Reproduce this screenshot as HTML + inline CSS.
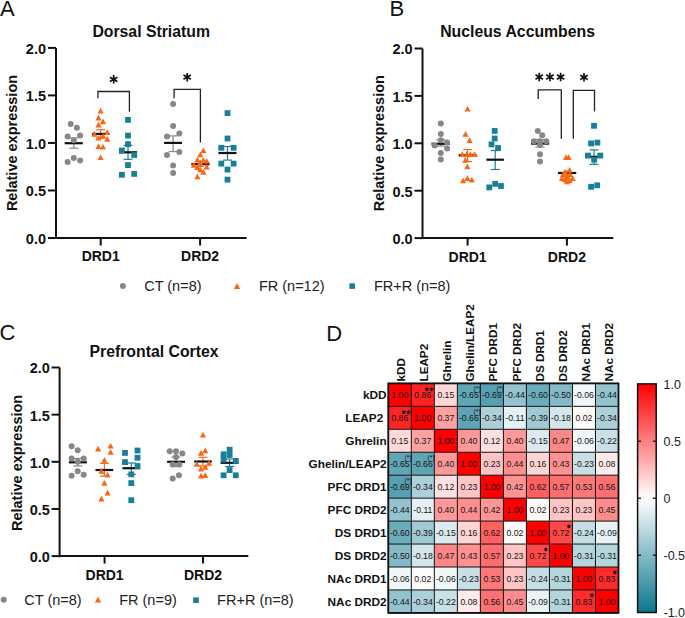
<!DOCTYPE html>
<html><head><meta charset="utf-8"><style>
html,body{margin:0;padding:0;background:#fff;width:685px;height:618px;overflow:hidden}
svg{display:block}
text{font-family:"Liberation Sans", sans-serif}
</style></head><body>
<svg width="685" height="618" viewBox="0 0 685 618">
<rect width="685" height="618" fill="#fff"/>
<line x1="56" y1="47.900000000000006" x2="56" y2="239.0" stroke="#111" stroke-width="2.0" stroke-linecap="butt"/>
<line x1="55" y1="238.0" x2="246.6" y2="238.0" stroke="#111" stroke-width="2.0" stroke-linecap="butt"/>
<line x1="48" y1="238.0" x2="56" y2="238.0" stroke="#111" stroke-width="2.0" stroke-linecap="butt"/>
<text x="46" y="243.9" font-size="14.5" font-weight="bold" text-anchor="end" fill="#111" >0.0</text>
<line x1="48" y1="190.475" x2="56" y2="190.475" stroke="#111" stroke-width="2.0" stroke-linecap="butt"/>
<text x="46" y="196.375" font-size="14.5" font-weight="bold" text-anchor="end" fill="#111" >0.5</text>
<line x1="48" y1="142.95" x2="56" y2="142.95" stroke="#111" stroke-width="2.0" stroke-linecap="butt"/>
<text x="46" y="148.85" font-size="14.5" font-weight="bold" text-anchor="end" fill="#111" >1.0</text>
<line x1="48" y1="95.42500000000001" x2="56" y2="95.42500000000001" stroke="#111" stroke-width="2.0" stroke-linecap="butt"/>
<text x="46" y="101.32500000000002" font-size="14.5" font-weight="bold" text-anchor="end" fill="#111" >1.5</text>
<line x1="48" y1="47.900000000000006" x2="56" y2="47.900000000000006" stroke="#111" stroke-width="2.0" stroke-linecap="butt"/>
<text x="46" y="53.800000000000004" font-size="14.5" font-weight="bold" text-anchor="end" fill="#111" >2.0</text>
<line x1="100.7" y1="238.0" x2="100.7" y2="245.5" stroke="#111" stroke-width="2.0" stroke-linecap="butt"/>
<text x="100.7" y="261" font-size="14" font-weight="bold" text-anchor="middle" fill="#111" >DRD1</text>
<line x1="200.1" y1="238.0" x2="200.1" y2="245.5" stroke="#111" stroke-width="2.0" stroke-linecap="butt"/>
<text x="200.1" y="261" font-size="14" font-weight="bold" text-anchor="middle" fill="#111" >DRD2</text>
<text x="151.2" y="36.7" font-size="15.8" font-weight="bold" text-anchor="middle" fill="#111" >Dorsal Striatum</text>
<text x="0" y="15.5" font-size="22" font-weight="normal" text-anchor="start" fill="#111" >A</text>
<text x="0" y="0" font-size="14.5" font-weight="bold" text-anchor="middle" fill="#111" transform="translate(17 143.0) rotate(-90)">Relative expression</text>
<line x1="73.8" y1="138" x2="73.8" y2="148.2" stroke="#878787" stroke-width="1.2" stroke-linecap="butt"/>
<line x1="69.3" y1="138" x2="78.3" y2="138" stroke="#878787" stroke-width="1.2" stroke-linecap="butt"/>
<line x1="69.3" y1="148.2" x2="78.3" y2="148.2" stroke="#878787" stroke-width="1.2" stroke-linecap="butt"/>
<line x1="64.7" y1="143.2" x2="82.8" y2="143.2" stroke="#111" stroke-width="2.2" stroke-linecap="butt"/>
<circle cx="70.7" cy="124.0" r="3.0" fill="#878787"/>
<circle cx="76.9" cy="127.8" r="3.0" fill="#878787"/>
<circle cx="67.6" cy="136.6" r="3.0" fill="#878787"/>
<circle cx="80.1" cy="135.6" r="3.0" fill="#878787"/>
<circle cx="73.8" cy="140.3" r="3.0" fill="#878787"/>
<circle cx="67.6" cy="161.9" r="3.0" fill="#878787"/>
<circle cx="73.8" cy="158.1" r="3.0" fill="#878787"/>
<circle cx="80.1" cy="160.5" r="3.0" fill="#878787"/>
<line x1="100.6" y1="129.8" x2="100.6" y2="138.0" stroke="#FA6614" stroke-width="1.2" stroke-linecap="butt"/>
<line x1="96.1" y1="129.8" x2="105.1" y2="129.8" stroke="#FA6614" stroke-width="1.2" stroke-linecap="butt"/>
<line x1="96.1" y1="138.0" x2="105.1" y2="138.0" stroke="#FA6614" stroke-width="1.2" stroke-linecap="butt"/>
<line x1="92.1" y1="133.9" x2="109.6" y2="133.9" stroke="#111" stroke-width="2.2" stroke-linecap="butt"/>
<path d="M100.60 107.68L103.70 113.38L97.50 113.38Z" fill="#FA6614"/>
<path d="M98.50 114.68L101.60 120.38L95.40 120.38Z" fill="#FA6614"/>
<path d="M103.00 118.58L106.10 124.28L99.90 124.28Z" fill="#FA6614"/>
<path d="M98.50 121.68L101.60 127.38L95.40 127.38Z" fill="#FA6614"/>
<path d="M94.50 131.08L97.60 136.78L91.40 136.78Z" fill="#FA6614"/>
<path d="M107.30 129.28L110.40 134.98L104.20 134.98Z" fill="#FA6614"/>
<path d="M98.50 134.88L101.60 140.58L95.40 140.58Z" fill="#FA6614"/>
<path d="M103.00 133.08L106.10 138.78L99.90 138.78Z" fill="#FA6614"/>
<path d="M107.30 136.08L110.40 141.78L104.20 141.78Z" fill="#FA6614"/>
<path d="M98.50 143.28L101.60 148.98L95.40 148.98Z" fill="#FA6614"/>
<path d="M103.00 143.88L106.10 149.58L99.90 149.58Z" fill="#FA6614"/>
<path d="M100.60 154.38L103.70 160.08L97.50 160.08Z" fill="#FA6614"/>
<line x1="128" y1="145.3" x2="128" y2="159.3" stroke="#187F97" stroke-width="1.2" stroke-linecap="butt"/>
<line x1="123.5" y1="145.3" x2="132.5" y2="145.3" stroke="#187F97" stroke-width="1.2" stroke-linecap="butt"/>
<line x1="123.5" y1="159.3" x2="132.5" y2="159.3" stroke="#187F97" stroke-width="1.2" stroke-linecap="butt"/>
<line x1="119" y1="152.3" x2="137.1" y2="152.3" stroke="#111" stroke-width="2.2" stroke-linecap="butt"/>
<rect x="125.10" y="117.00" width="5.8" height="5.8" fill="#187F97"/>
<rect x="125.10" y="132.70" width="5.8" height="5.8" fill="#187F97"/>
<rect x="125.10" y="141.20" width="5.8" height="5.8" fill="#187F97"/>
<rect x="119.00" y="147.60" width="5.8" height="5.8" fill="#187F97"/>
<rect x="131.30" y="152.10" width="5.8" height="5.8" fill="#187F97"/>
<rect x="125.10" y="162.20" width="5.8" height="5.8" fill="#187F97"/>
<rect x="119.00" y="171.90" width="5.8" height="5.8" fill="#187F97"/>
<rect x="131.30" y="171.00" width="5.8" height="5.8" fill="#187F97"/>
<line x1="173.1" y1="135.9" x2="173.1" y2="151.6" stroke="#878787" stroke-width="1.2" stroke-linecap="butt"/>
<line x1="168.6" y1="135.9" x2="177.6" y2="135.9" stroke="#878787" stroke-width="1.2" stroke-linecap="butt"/>
<line x1="168.6" y1="151.6" x2="177.6" y2="151.6" stroke="#878787" stroke-width="1.2" stroke-linecap="butt"/>
<line x1="164.1" y1="142.9" x2="182" y2="142.9" stroke="#111" stroke-width="2.2" stroke-linecap="butt"/>
<circle cx="173.1" cy="104.1" r="3.0" fill="#878787"/>
<circle cx="173.1" cy="126.0" r="3.0" fill="#878787"/>
<circle cx="179.3" cy="133.5" r="3.0" fill="#878787"/>
<circle cx="167.0" cy="136.5" r="3.0" fill="#878787"/>
<circle cx="179.3" cy="152.0" r="3.0" fill="#878787"/>
<circle cx="167.0" cy="155.1" r="3.0" fill="#878787"/>
<circle cx="173.1" cy="165.4" r="3.0" fill="#878787"/>
<circle cx="173.1" cy="173.0" r="3.0" fill="#878787"/>
<line x1="200.3" y1="161.5" x2="200.3" y2="166.5" stroke="#FA6614" stroke-width="1.2" stroke-linecap="butt"/>
<line x1="196.8" y1="161.5" x2="203.8" y2="161.5" stroke="#FA6614" stroke-width="1.2" stroke-linecap="butt"/>
<line x1="196.8" y1="166.5" x2="203.8" y2="166.5" stroke="#FA6614" stroke-width="1.2" stroke-linecap="butt"/>
<line x1="191.3" y1="164.2" x2="209.6" y2="164.2" stroke="#111" stroke-width="2.2" stroke-linecap="butt"/>
<path d="M203.40 147.38L206.50 153.08L200.30 153.08Z" fill="#FA6614"/>
<path d="M200.30 151.48L203.40 157.18L197.20 157.18Z" fill="#FA6614"/>
<path d="M197.40 156.68L200.50 162.38L194.30 162.38Z" fill="#FA6614"/>
<path d="M203.40 157.08L206.50 162.78L200.30 162.78Z" fill="#FA6614"/>
<path d="M206.70 157.88L209.80 163.58L203.60 163.58Z" fill="#FA6614"/>
<path d="M193.90 161.98L197.00 167.68L190.80 167.68Z" fill="#FA6614"/>
<path d="M206.70 163.68L209.80 169.38L203.60 169.38Z" fill="#FA6614"/>
<path d="M197.40 164.28L200.50 169.98L194.30 169.98Z" fill="#FA6614"/>
<path d="M200.30 166.58L203.40 172.28L197.20 172.28Z" fill="#FA6614"/>
<path d="M203.40 168.98L206.50 174.68L200.30 174.68Z" fill="#FA6614"/>
<path d="M197.40 173.58L200.50 179.28L194.30 179.28Z" fill="#FA6614"/>
<path d="M200.30 159.58L203.40 165.28L197.20 165.28Z" fill="#FA6614"/>
<line x1="227.5" y1="146.5" x2="227.5" y2="160.1" stroke="#187F97" stroke-width="1.2" stroke-linecap="butt"/>
<line x1="223.0" y1="146.5" x2="232.0" y2="146.5" stroke="#187F97" stroke-width="1.2" stroke-linecap="butt"/>
<line x1="223.0" y1="160.1" x2="232.0" y2="160.1" stroke="#187F97" stroke-width="1.2" stroke-linecap="butt"/>
<line x1="218.4" y1="153.0" x2="236.5" y2="153.0" stroke="#111" stroke-width="2.2" stroke-linecap="butt"/>
<rect x="224.60" y="110.20" width="5.8" height="5.8" fill="#187F97"/>
<rect x="224.60" y="135.60" width="5.8" height="5.8" fill="#187F97"/>
<rect x="218.40" y="144.90" width="5.8" height="5.8" fill="#187F97"/>
<rect x="230.70" y="144.90" width="5.8" height="5.8" fill="#187F97"/>
<rect x="218.40" y="160.70" width="5.8" height="5.8" fill="#187F97"/>
<rect x="230.70" y="160.70" width="5.8" height="5.8" fill="#187F97"/>
<rect x="224.60" y="166.60" width="5.8" height="5.8" fill="#187F97"/>
<rect x="224.60" y="176.70" width="5.8" height="5.8" fill="#187F97"/>
<path d="M97.9 98.2V91.5H129.4V111.7" stroke="#222" stroke-width="1.3" fill="none"/>
<path d="M174.1 98.2V89.4H200.4V142.6" stroke="#222" stroke-width="1.3" fill="none"/>
<path d="M113.70 75.00L113.70 83.60M109.98 77.15L117.42 81.45M109.98 81.45L117.42 77.15" stroke="#111" stroke-width="1.7" fill="none"/>
<path d="M187.20 72.90L187.20 81.50M183.48 75.05L190.92 79.35M183.48 79.35L190.92 75.05" stroke="#111" stroke-width="1.7" fill="none"/>
<circle cx="122.9" cy="286.1" r="3.0" fill="#878787"/>
<text x="144.2" y="291.1" font-size="14.5" font-weight="normal" text-anchor="start" fill="#222" >CT (n=8)</text>
<path d="M237.00 283.07L240.20 288.96L233.80 288.96Z" fill="#FA6614"/>
<text x="258.9" y="291.1" font-size="14.5" font-weight="normal" text-anchor="start" fill="#222" >FR (n=12)</text>
<rect x="349.40" y="283.30" width="5.6" height="5.6" fill="#187F97"/>
<text x="373.9" y="291.1" font-size="14.5" font-weight="normal" text-anchor="start" fill="#222" >FR+R (n=8)</text>
<line x1="422.5" y1="48.5" x2="422.5" y2="239.1" stroke="#111" stroke-width="2.0" stroke-linecap="butt"/>
<line x1="421.5" y1="238.1" x2="613.3" y2="238.1" stroke="#111" stroke-width="2.0" stroke-linecap="butt"/>
<line x1="414.5" y1="238.1" x2="422.5" y2="238.1" stroke="#111" stroke-width="2.0" stroke-linecap="butt"/>
<text x="412.6" y="244.0" font-size="14.5" font-weight="bold" text-anchor="end" fill="#111" >0.0</text>
<line x1="414.5" y1="190.7" x2="422.5" y2="190.7" stroke="#111" stroke-width="2.0" stroke-linecap="butt"/>
<text x="412.6" y="196.6" font-size="14.5" font-weight="bold" text-anchor="end" fill="#111" >0.5</text>
<line x1="414.5" y1="143.3" x2="422.5" y2="143.3" stroke="#111" stroke-width="2.0" stroke-linecap="butt"/>
<text x="412.6" y="149.20000000000002" font-size="14.5" font-weight="bold" text-anchor="end" fill="#111" >1.0</text>
<line x1="414.5" y1="95.9" x2="422.5" y2="95.9" stroke="#111" stroke-width="2.0" stroke-linecap="butt"/>
<text x="412.6" y="101.80000000000001" font-size="14.5" font-weight="bold" text-anchor="end" fill="#111" >1.5</text>
<line x1="414.5" y1="48.5" x2="422.5" y2="48.5" stroke="#111" stroke-width="2.0" stroke-linecap="butt"/>
<text x="412.6" y="54.4" font-size="14.5" font-weight="bold" text-anchor="end" fill="#111" >2.0</text>
<line x1="467.6" y1="238.1" x2="467.6" y2="245.6" stroke="#111" stroke-width="2.0" stroke-linecap="butt"/>
<text x="467.6" y="262" font-size="14" font-weight="bold" text-anchor="middle" fill="#111" >DRD1</text>
<line x1="566.9" y1="238.1" x2="566.9" y2="245.6" stroke="#111" stroke-width="2.0" stroke-linecap="butt"/>
<text x="566.9" y="262" font-size="14" font-weight="bold" text-anchor="middle" fill="#111" >DRD2</text>
<text x="517.6" y="37.0" font-size="15.8" font-weight="bold" text-anchor="middle" fill="#111" >Nucleus Accumbens</text>
<text x="389.6" y="15.6" font-size="22" font-weight="normal" text-anchor="start" fill="#111" >B</text>
<text x="0" y="0" font-size="14.5" font-weight="bold" text-anchor="middle" fill="#111" transform="translate(383.7 143.2) rotate(-90)">Relative expression</text>
<line x1="440.8" y1="139.7" x2="440.8" y2="146.1" stroke="#878787" stroke-width="1.2" stroke-linecap="butt"/>
<line x1="436.3" y1="139.7" x2="445.3" y2="139.7" stroke="#878787" stroke-width="1.2" stroke-linecap="butt"/>
<line x1="436.3" y1="146.1" x2="445.3" y2="146.1" stroke="#878787" stroke-width="1.2" stroke-linecap="butt"/>
<line x1="431.5" y1="143.8" x2="450" y2="143.8" stroke="#111" stroke-width="2.2" stroke-linecap="butt"/>
<circle cx="440.8" cy="123.4" r="3.0" fill="#878787"/>
<circle cx="440.8" cy="133.9" r="3.0" fill="#878787"/>
<circle cx="440.8" cy="140.3" r="3.0" fill="#878787"/>
<circle cx="434.6" cy="145.5" r="3.0" fill="#878787"/>
<circle cx="447.1" cy="142.6" r="3.0" fill="#878787"/>
<circle cx="447.1" cy="148.5" r="3.0" fill="#878787"/>
<circle cx="440.8" cy="153.1" r="3.0" fill="#878787"/>
<circle cx="440.8" cy="159.6" r="3.0" fill="#878787"/>
<line x1="467.6" y1="149.5" x2="467.6" y2="161.6" stroke="#FA6614" stroke-width="1.2" stroke-linecap="butt"/>
<line x1="463.1" y1="149.5" x2="472.1" y2="149.5" stroke="#FA6614" stroke-width="1.2" stroke-linecap="butt"/>
<line x1="463.1" y1="161.6" x2="472.1" y2="161.6" stroke="#FA6614" stroke-width="1.2" stroke-linecap="butt"/>
<line x1="458.7" y1="155.3" x2="476.9" y2="155.3" stroke="#111" stroke-width="2.2" stroke-linecap="butt"/>
<path d="M467.60 105.88L470.70 111.58L464.50 111.58Z" fill="#FA6614"/>
<path d="M465.50 131.08L468.60 136.78L462.40 136.78Z" fill="#FA6614"/>
<path d="M469.60 137.28L472.70 142.98L466.50 142.98Z" fill="#FA6614"/>
<path d="M462.30 151.18L465.40 156.88L459.20 156.88Z" fill="#FA6614"/>
<path d="M466.70 151.18L469.80 156.88L463.60 156.88Z" fill="#FA6614"/>
<path d="M470.40 151.18L473.50 156.88L467.30 156.88Z" fill="#FA6614"/>
<path d="M474.70 151.18L477.80 156.88L471.60 156.88Z" fill="#FA6614"/>
<path d="M465.30 156.98L468.40 162.68L462.20 162.68Z" fill="#FA6614"/>
<path d="M467.40 163.58L470.50 169.28L464.30 169.28Z" fill="#FA6614"/>
<path d="M463.10 177.48L466.20 183.18L460.00 183.18Z" fill="#FA6614"/>
<path d="M467.40 175.28L470.50 180.98L464.30 180.98Z" fill="#FA6614"/>
<path d="M471.80 176.68L474.90 182.38L468.70 182.38Z" fill="#FA6614"/>
<line x1="495.2" y1="150.5" x2="495.2" y2="169.5" stroke="#187F97" stroke-width="1.2" stroke-linecap="butt"/>
<line x1="490.7" y1="150.5" x2="499.7" y2="150.5" stroke="#187F97" stroke-width="1.2" stroke-linecap="butt"/>
<line x1="490.7" y1="169.5" x2="499.7" y2="169.5" stroke="#187F97" stroke-width="1.2" stroke-linecap="butt"/>
<line x1="486.4" y1="159.7" x2="503.9" y2="159.7" stroke="#111" stroke-width="2.2" stroke-linecap="butt"/>
<rect x="491.80" y="128.00" width="5.8" height="5.8" fill="#187F97"/>
<rect x="491.80" y="135.60" width="5.8" height="5.8" fill="#187F97"/>
<rect x="488.60" y="141.50" width="5.8" height="5.8" fill="#187F97"/>
<rect x="495.20" y="145.10" width="5.8" height="5.8" fill="#187F97"/>
<rect x="486.40" y="184.50" width="5.8" height="5.8" fill="#187F97"/>
<rect x="492.30" y="180.90" width="5.8" height="5.8" fill="#187F97"/>
<rect x="498.10" y="183.10" width="5.8" height="5.8" fill="#187F97"/>
<line x1="540" y1="139.5" x2="540" y2="147" stroke="#878787" stroke-width="1.2" stroke-linecap="butt"/>
<line x1="535.5" y1="139.5" x2="544.5" y2="139.5" stroke="#878787" stroke-width="1.2" stroke-linecap="butt"/>
<line x1="535.5" y1="147" x2="544.5" y2="147" stroke="#878787" stroke-width="1.2" stroke-linecap="butt"/>
<line x1="531" y1="143.6" x2="549.2" y2="143.6" stroke="#111" stroke-width="2.2" stroke-linecap="butt"/>
<circle cx="537.8" cy="131" r="3.0" fill="#878787"/>
<circle cx="542.2" cy="135.3" r="3.0" fill="#878787"/>
<circle cx="533.9" cy="141.2" r="3.0" fill="#878787"/>
<circle cx="540" cy="141.2" r="3.0" fill="#878787"/>
<circle cx="546.3" cy="141.2" r="3.0" fill="#878787"/>
<circle cx="540" cy="154.3" r="3.0" fill="#878787"/>
<circle cx="540" cy="161.6" r="3.0" fill="#878787"/>
<circle cx="540" cy="145" r="3.0" fill="#878787"/>
<line x1="567.1" y1="171" x2="567.1" y2="175.5" stroke="#FA6614" stroke-width="1.2" stroke-linecap="butt"/>
<line x1="563.6" y1="171" x2="570.6" y2="171" stroke="#FA6614" stroke-width="1.2" stroke-linecap="butt"/>
<line x1="563.6" y1="175.5" x2="570.6" y2="175.5" stroke="#FA6614" stroke-width="1.2" stroke-linecap="butt"/>
<line x1="557.9" y1="173.0" x2="576.3" y2="173.0" stroke="#111" stroke-width="2.2" stroke-linecap="butt"/>
<path d="M566.10 154.28L569.20 159.98L563.00 159.98Z" fill="#FA6614"/>
<path d="M568.60 154.28L571.70 159.98L565.50 159.98Z" fill="#FA6614"/>
<path d="M565.00 169.08L568.10 174.78L561.90 174.78Z" fill="#FA6614"/>
<path d="M569.60 166.98L572.70 172.68L566.50 172.68Z" fill="#FA6614"/>
<path d="M562.00 175.18L565.10 180.88L558.90 180.88Z" fill="#FA6614"/>
<path d="M567.10 173.68L570.20 179.38L564.00 179.38Z" fill="#FA6614"/>
<path d="M572.70 175.18L575.80 180.88L569.60 180.88Z" fill="#FA6614"/>
<path d="M569.60 177.28L572.70 182.98L566.50 182.98Z" fill="#FA6614"/>
<path d="M565.00 176.58L568.10 182.28L561.90 182.28Z" fill="#FA6614"/>
<path d="M570.00 171.58L573.10 177.28L566.90 177.28Z" fill="#FA6614"/>
<path d="M563.00 171.58L566.10 177.28L559.90 177.28Z" fill="#FA6614"/>
<path d="M567.00 178.58L570.10 184.28L563.90 184.28Z" fill="#FA6614"/>
<line x1="594" y1="149.9" x2="594" y2="164.3" stroke="#187F97" stroke-width="1.2" stroke-linecap="butt"/>
<line x1="589.5" y1="149.9" x2="598.5" y2="149.9" stroke="#187F97" stroke-width="1.2" stroke-linecap="butt"/>
<line x1="589.5" y1="164.3" x2="598.5" y2="164.3" stroke="#187F97" stroke-width="1.2" stroke-linecap="butt"/>
<line x1="585" y1="156.8" x2="603" y2="156.8" stroke="#111" stroke-width="2.2" stroke-linecap="butt"/>
<rect x="591.10" y="122.90" width="5.8" height="5.8" fill="#187F97"/>
<rect x="588.20" y="140.50" width="5.8" height="5.8" fill="#187F97"/>
<rect x="594.50" y="139.70" width="5.8" height="5.8" fill="#187F97"/>
<rect x="585.10" y="152.70" width="5.8" height="5.8" fill="#187F97"/>
<rect x="597.40" y="152.70" width="5.8" height="5.8" fill="#187F97"/>
<rect x="591.30" y="156.80" width="5.8" height="5.8" fill="#187F97"/>
<rect x="588.20" y="183.90" width="5.8" height="5.8" fill="#187F97"/>
<rect x="594.30" y="182.40" width="5.8" height="5.8" fill="#187F97"/>
<path d="M538.2 99.1V89.9H561.3V138.7" stroke="#222" stroke-width="1.3" fill="none"/>
<path d="M573.3 138.7V90.4H594.5V111.4" stroke="#222" stroke-width="1.3" fill="none"/>
<path d="M539.20 72.70L539.20 81.30M535.48 74.85L542.92 79.15M535.48 79.15L542.92 74.85" stroke="#111" stroke-width="1.7" fill="none"/>
<path d="M549.90 72.70L549.90 81.30M546.18 74.85L553.62 79.15M546.18 79.15L553.62 74.85" stroke="#111" stroke-width="1.7" fill="none"/>
<path d="M560.60 72.70L560.60 81.30M556.88 74.85L564.32 79.15M556.88 79.15L564.32 74.85" stroke="#111" stroke-width="1.7" fill="none"/>
<path d="M584.00 73.00L584.00 81.60M580.28 75.15L587.72 79.45M580.28 79.45L587.72 75.15" stroke="#111" stroke-width="1.7" fill="none"/>
<line x1="59.6" y1="367.5" x2="59.6" y2="557.1" stroke="#111" stroke-width="2.0" stroke-linecap="butt"/>
<line x1="58.6" y1="556.1" x2="248.3" y2="556.1" stroke="#111" stroke-width="2.0" stroke-linecap="butt"/>
<line x1="51.6" y1="556.1" x2="59.6" y2="556.1" stroke="#111" stroke-width="2.0" stroke-linecap="butt"/>
<text x="49.8" y="562.0" font-size="14.5" font-weight="bold" text-anchor="end" fill="#111" >0.0</text>
<line x1="51.6" y1="508.95000000000005" x2="59.6" y2="508.95000000000005" stroke="#111" stroke-width="2.0" stroke-linecap="butt"/>
<text x="49.8" y="514.85" font-size="14.5" font-weight="bold" text-anchor="end" fill="#111" >0.5</text>
<line x1="51.6" y1="461.8" x2="59.6" y2="461.8" stroke="#111" stroke-width="2.0" stroke-linecap="butt"/>
<text x="49.8" y="467.7" font-size="14.5" font-weight="bold" text-anchor="end" fill="#111" >1.0</text>
<line x1="51.6" y1="414.65000000000003" x2="59.6" y2="414.65000000000003" stroke="#111" stroke-width="2.0" stroke-linecap="butt"/>
<text x="49.8" y="420.55" font-size="14.5" font-weight="bold" text-anchor="end" fill="#111" >1.5</text>
<line x1="51.6" y1="367.5" x2="59.6" y2="367.5" stroke="#111" stroke-width="2.0" stroke-linecap="butt"/>
<text x="49.8" y="373.4" font-size="14.5" font-weight="bold" text-anchor="end" fill="#111" >2.0</text>
<line x1="104.6" y1="556.1" x2="104.6" y2="563.6" stroke="#111" stroke-width="2.0" stroke-linecap="butt"/>
<text x="104.6" y="579.5" font-size="14" font-weight="bold" text-anchor="middle" fill="#111" >DRD1</text>
<line x1="203" y1="556.1" x2="203" y2="563.6" stroke="#111" stroke-width="2.0" stroke-linecap="butt"/>
<text x="203" y="579.5" font-size="14" font-weight="bold" text-anchor="middle" fill="#111" >DRD2</text>
<text x="154" y="357.0" font-size="15.8" font-weight="bold" text-anchor="middle" fill="#111" >Prefrontal Cortex</text>
<text x="-0.6" y="340.3" font-size="22" font-weight="normal" text-anchor="start" fill="#111" >C</text>
<text x="0" y="0" font-size="14.5" font-weight="bold" text-anchor="middle" fill="#111" transform="translate(21.8 462.9) rotate(-90)">Relative expression</text>
<line x1="77.7" y1="458.5" x2="77.7" y2="466" stroke="#878787" stroke-width="1.2" stroke-linecap="butt"/>
<line x1="73.2" y1="458.5" x2="82.2" y2="458.5" stroke="#878787" stroke-width="1.2" stroke-linecap="butt"/>
<line x1="73.2" y1="466" x2="82.2" y2="466" stroke="#878787" stroke-width="1.2" stroke-linecap="butt"/>
<line x1="68.9" y1="462.3" x2="86.9" y2="462.3" stroke="#111" stroke-width="2.2" stroke-linecap="butt"/>
<circle cx="71.6" cy="446.3" r="3.0" fill="#878787"/>
<circle cx="77.7" cy="450.2" r="3.0" fill="#878787"/>
<circle cx="71.6" cy="458.4" r="3.0" fill="#878787"/>
<circle cx="83.7" cy="458.4" r="3.0" fill="#878787"/>
<circle cx="77.7" cy="461.7" r="3.0" fill="#878787"/>
<circle cx="77.7" cy="471.3" r="3.0" fill="#878787"/>
<circle cx="71.6" cy="475.7" r="3.0" fill="#878787"/>
<circle cx="83.7" cy="474.8" r="3.0" fill="#878787"/>
<line x1="104.4" y1="463.4" x2="104.4" y2="476.1" stroke="#FA6614" stroke-width="1.2" stroke-linecap="butt"/>
<line x1="99.9" y1="463.4" x2="108.9" y2="463.4" stroke="#FA6614" stroke-width="1.2" stroke-linecap="butt"/>
<line x1="99.9" y1="476.1" x2="108.9" y2="476.1" stroke="#FA6614" stroke-width="1.2" stroke-linecap="butt"/>
<line x1="95.5" y1="470" x2="113.2" y2="470" stroke="#111" stroke-width="2.2" stroke-linecap="butt"/>
<path d="M98.10 445.78L101.20 451.48L95.00 451.48Z" fill="#FA6614"/>
<path d="M110.60 442.88L113.70 448.58L107.50 448.58Z" fill="#FA6614"/>
<path d="M110.60 449.08L113.70 454.78L107.50 454.78Z" fill="#FA6614"/>
<path d="M104.40 456.98L107.50 462.68L101.30 462.68Z" fill="#FA6614"/>
<path d="M101.40 468.08L104.50 473.78L98.30 473.78Z" fill="#FA6614"/>
<path d="M107.60 471.78L110.70 477.48L104.50 477.48Z" fill="#FA6614"/>
<path d="M104.40 479.98L107.50 485.68L101.30 485.68Z" fill="#FA6614"/>
<path d="M107.60 489.78L110.70 495.48L104.50 495.48Z" fill="#FA6614"/>
<path d="M101.40 495.68L104.50 501.38L98.30 501.38Z" fill="#FA6614"/>
<line x1="131.3" y1="463" x2="131.3" y2="474.4" stroke="#187F97" stroke-width="1.2" stroke-linecap="butt"/>
<line x1="126.80000000000001" y1="463" x2="135.8" y2="463" stroke="#187F97" stroke-width="1.2" stroke-linecap="butt"/>
<line x1="126.80000000000001" y1="474.4" x2="135.8" y2="474.4" stroke="#187F97" stroke-width="1.2" stroke-linecap="butt"/>
<line x1="122.4" y1="468.2" x2="140.1" y2="468.2" stroke="#111" stroke-width="2.2" stroke-linecap="butt"/>
<rect x="122.10" y="450.00" width="5.8" height="5.8" fill="#187F97"/>
<rect x="134.60" y="447.60" width="5.8" height="5.8" fill="#187F97"/>
<rect x="134.60" y="454.80" width="5.8" height="5.8" fill="#187F97"/>
<rect x="122.10" y="459.20" width="5.8" height="5.8" fill="#187F97"/>
<rect x="134.60" y="463.10" width="5.8" height="5.8" fill="#187F97"/>
<rect x="128.40" y="471.50" width="5.8" height="5.8" fill="#187F97"/>
<rect x="128.40" y="480.20" width="5.8" height="5.8" fill="#187F97"/>
<rect x="128.40" y="497.30" width="5.8" height="5.8" fill="#187F97"/>
<line x1="176" y1="457" x2="176" y2="466.5" stroke="#878787" stroke-width="1.2" stroke-linecap="butt"/>
<line x1="171.5" y1="457" x2="180.5" y2="457" stroke="#878787" stroke-width="1.2" stroke-linecap="butt"/>
<line x1="171.5" y1="466.5" x2="180.5" y2="466.5" stroke="#878787" stroke-width="1.2" stroke-linecap="butt"/>
<line x1="167.1" y1="461.8" x2="185" y2="461.8" stroke="#111" stroke-width="2.2" stroke-linecap="butt"/>
<circle cx="169.7" cy="451.3" r="3.0" fill="#878787"/>
<circle cx="176" cy="451.3" r="3.0" fill="#878787"/>
<circle cx="182.3" cy="453.6" r="3.0" fill="#878787"/>
<circle cx="176" cy="456.9" r="3.0" fill="#878787"/>
<circle cx="172.7" cy="464.4" r="3.0" fill="#878787"/>
<circle cx="179.3" cy="464.4" r="3.0" fill="#878787"/>
<circle cx="172.7" cy="478.6" r="3.0" fill="#878787"/>
<circle cx="178.9" cy="475.3" r="3.0" fill="#878787"/>
<line x1="203" y1="457.3" x2="203" y2="466" stroke="#FA6614" stroke-width="1.2" stroke-linecap="butt"/>
<line x1="198.5" y1="457.3" x2="207.5" y2="457.3" stroke="#FA6614" stroke-width="1.2" stroke-linecap="butt"/>
<line x1="198.5" y1="466" x2="207.5" y2="466" stroke="#FA6614" stroke-width="1.2" stroke-linecap="butt"/>
<line x1="194.2" y1="461.5" x2="211.8" y2="461.5" stroke="#111" stroke-width="2.2" stroke-linecap="butt"/>
<path d="M203.00 431.88L206.10 437.58L199.90 437.58Z" fill="#FA6614"/>
<path d="M201.00 449.98L204.10 455.68L197.90 455.68Z" fill="#FA6614"/>
<path d="M205.20 447.58L208.30 453.28L202.10 453.28Z" fill="#FA6614"/>
<path d="M196.80 460.98L199.90 466.68L193.70 466.68Z" fill="#FA6614"/>
<path d="M209.10 460.08L212.20 465.78L206.00 465.78Z" fill="#FA6614"/>
<path d="M201.00 465.78L204.10 471.48L197.90 471.48Z" fill="#FA6614"/>
<path d="M205.20 463.98L208.30 469.68L202.10 469.68Z" fill="#FA6614"/>
<path d="M201.00 472.78L204.10 478.48L197.90 478.48Z" fill="#FA6614"/>
<path d="M205.20 472.28L208.30 477.98L202.10 477.98Z" fill="#FA6614"/>
<line x1="229.6" y1="459" x2="229.6" y2="466.5" stroke="#187F97" stroke-width="1.2" stroke-linecap="butt"/>
<line x1="225.1" y1="459" x2="234.1" y2="459" stroke="#187F97" stroke-width="1.2" stroke-linecap="butt"/>
<line x1="225.1" y1="466.5" x2="234.1" y2="466.5" stroke="#187F97" stroke-width="1.2" stroke-linecap="butt"/>
<line x1="220.6" y1="462.8" x2="238.6" y2="462.8" stroke="#111" stroke-width="2.2" stroke-linecap="butt"/>
<rect x="226.70" y="446.80" width="5.8" height="5.8" fill="#187F97"/>
<rect x="220.70" y="451.40" width="5.8" height="5.8" fill="#187F97"/>
<rect x="226.70" y="452.10" width="5.8" height="5.8" fill="#187F97"/>
<rect x="220.70" y="456.70" width="5.8" height="5.8" fill="#187F97"/>
<rect x="232.90" y="458.00" width="5.8" height="5.8" fill="#187F97"/>
<rect x="226.70" y="467.20" width="5.8" height="5.8" fill="#187F97"/>
<rect x="220.70" y="472.40" width="5.8" height="5.8" fill="#187F97"/>
<rect x="232.90" y="472.40" width="5.8" height="5.8" fill="#187F97"/>
<circle cx="3.7" cy="599.7" r="3.0" fill="#878787"/>
<text x="24.3" y="604.7" font-size="14.5" font-weight="normal" text-anchor="start" fill="#222" >CT (n=8)</text>
<path d="M98.00 596.67L101.20 602.56L94.80 602.56Z" fill="#FA6614"/>
<text x="119.2" y="604.7" font-size="14.5" font-weight="normal" text-anchor="start" fill="#222" >FR (n=9)</text>
<rect x="193.20" y="597.40" width="5.6" height="5.6" fill="#187F97"/>
<text x="217.1" y="604.7" font-size="14.5" font-weight="normal" text-anchor="start" fill="#222" >FR+R (n=8)</text>
<text x="326.2" y="340.6" font-size="22" font-weight="normal" text-anchor="start" fill="#111" >D</text>
<rect x="388.30" y="383.40" width="23.02" height="22.95" fill="rgb(255,0,0)"/>
<rect x="411.32" y="383.40" width="23.02" height="22.95" fill="rgb(255,36,36)"/>
<rect x="434.34" y="383.40" width="23.02" height="22.95" fill="rgb(255,217,217)"/>
<rect x="457.36" y="383.40" width="23.02" height="22.95" fill="rgb(96,166,182)"/>
<rect x="480.38" y="383.40" width="23.02" height="22.95" fill="rgb(86,160,178)"/>
<rect x="503.40" y="383.40" width="23.02" height="22.95" fill="rgb(147,195,206)"/>
<rect x="526.42" y="383.40" width="23.02" height="22.95" fill="rgb(108,173,188)"/>
<rect x="549.44" y="383.40" width="23.02" height="22.95" fill="rgb(132,186,199)"/>
<rect x="572.46" y="383.40" width="23.02" height="22.95" fill="rgb(240,247,248)"/>
<rect x="595.48" y="383.40" width="23.02" height="22.95" fill="rgb(147,195,206)"/>
<rect x="388.30" y="406.35" width="23.02" height="22.95" fill="rgb(255,36,36)"/>
<rect x="411.32" y="406.35" width="23.02" height="22.95" fill="rgb(255,0,0)"/>
<rect x="434.34" y="406.35" width="23.02" height="22.95" fill="rgb(255,161,161)"/>
<rect x="457.36" y="406.35" width="23.02" height="22.95" fill="rgb(93,165,181)"/>
<rect x="480.38" y="406.35" width="23.02" height="22.95" fill="rgb(172,208,217)"/>
<rect x="503.40" y="406.35" width="23.02" height="22.95" fill="rgb(228,240,243)"/>
<rect x="526.42" y="406.35" width="23.02" height="22.95" fill="rgb(159,202,211)"/>
<rect x="549.44" y="406.35" width="23.02" height="22.95" fill="rgb(211,230,235)"/>
<rect x="572.46" y="406.35" width="23.02" height="22.95" fill="rgb(255,250,250)"/>
<rect x="595.48" y="406.35" width="23.02" height="22.95" fill="rgb(172,208,217)"/>
<rect x="388.30" y="429.30" width="23.02" height="22.95" fill="rgb(255,217,217)"/>
<rect x="411.32" y="429.30" width="23.02" height="22.95" fill="rgb(255,161,161)"/>
<rect x="434.34" y="429.30" width="23.02" height="22.95" fill="rgb(255,0,0)"/>
<rect x="457.36" y="429.30" width="23.02" height="22.95" fill="rgb(255,153,153)"/>
<rect x="480.38" y="429.30" width="23.02" height="22.95" fill="rgb(255,224,224)"/>
<rect x="503.40" y="429.30" width="23.02" height="22.95" fill="rgb(255,153,153)"/>
<rect x="526.42" y="429.30" width="23.02" height="22.95" fill="rgb(218,234,238)"/>
<rect x="549.44" y="429.30" width="23.02" height="22.95" fill="rgb(255,135,135)"/>
<rect x="572.46" y="429.30" width="23.02" height="22.95" fill="rgb(240,247,248)"/>
<rect x="595.48" y="429.30" width="23.02" height="22.95" fill="rgb(201,225,230)"/>
<rect x="388.30" y="452.25" width="23.02" height="22.95" fill="rgb(96,166,182)"/>
<rect x="411.32" y="452.25" width="23.02" height="22.95" fill="rgb(93,165,181)"/>
<rect x="434.34" y="452.25" width="23.02" height="22.95" fill="rgb(255,153,153)"/>
<rect x="457.36" y="452.25" width="23.02" height="22.95" fill="rgb(255,0,0)"/>
<rect x="480.38" y="452.25" width="23.02" height="22.95" fill="rgb(255,196,196)"/>
<rect x="503.40" y="452.25" width="23.02" height="22.95" fill="rgb(255,143,143)"/>
<rect x="526.42" y="452.25" width="23.02" height="22.95" fill="rgb(255,214,214)"/>
<rect x="549.44" y="452.25" width="23.02" height="22.95" fill="rgb(255,145,145)"/>
<rect x="572.46" y="452.25" width="23.02" height="22.95" fill="rgb(199,223,229)"/>
<rect x="595.48" y="452.25" width="23.02" height="22.95" fill="rgb(255,235,235)"/>
<rect x="388.30" y="475.20" width="23.02" height="22.95" fill="rgb(86,160,178)"/>
<rect x="411.32" y="475.20" width="23.02" height="22.95" fill="rgb(172,208,217)"/>
<rect x="434.34" y="475.20" width="23.02" height="22.95" fill="rgb(255,224,224)"/>
<rect x="457.36" y="475.20" width="23.02" height="22.95" fill="rgb(255,196,196)"/>
<rect x="480.38" y="475.20" width="23.02" height="22.95" fill="rgb(255,0,0)"/>
<rect x="503.40" y="475.20" width="23.02" height="22.95" fill="rgb(255,148,148)"/>
<rect x="526.42" y="475.20" width="23.02" height="22.95" fill="rgb(255,97,97)"/>
<rect x="549.44" y="475.20" width="23.02" height="22.95" fill="rgb(255,110,110)"/>
<rect x="572.46" y="475.20" width="23.02" height="22.95" fill="rgb(255,120,120)"/>
<rect x="595.48" y="475.20" width="23.02" height="22.95" fill="rgb(255,112,112)"/>
<rect x="388.30" y="498.15" width="23.02" height="22.95" fill="rgb(147,195,206)"/>
<rect x="411.32" y="498.15" width="23.02" height="22.95" fill="rgb(228,240,243)"/>
<rect x="434.34" y="498.15" width="23.02" height="22.95" fill="rgb(255,153,153)"/>
<rect x="457.36" y="498.15" width="23.02" height="22.95" fill="rgb(255,143,143)"/>
<rect x="480.38" y="498.15" width="23.02" height="22.95" fill="rgb(255,148,148)"/>
<rect x="503.40" y="498.15" width="23.02" height="22.95" fill="rgb(255,0,0)"/>
<rect x="526.42" y="498.15" width="23.02" height="22.95" fill="rgb(255,250,250)"/>
<rect x="549.44" y="498.15" width="23.02" height="22.95" fill="rgb(255,196,196)"/>
<rect x="572.46" y="498.15" width="23.02" height="22.95" fill="rgb(255,196,196)"/>
<rect x="595.48" y="498.15" width="23.02" height="22.95" fill="rgb(255,140,140)"/>
<rect x="388.30" y="521.10" width="23.02" height="22.95" fill="rgb(108,173,188)"/>
<rect x="411.32" y="521.10" width="23.02" height="22.95" fill="rgb(159,202,211)"/>
<rect x="434.34" y="521.10" width="23.02" height="22.95" fill="rgb(218,234,238)"/>
<rect x="457.36" y="521.10" width="23.02" height="22.95" fill="rgb(255,214,214)"/>
<rect x="480.38" y="521.10" width="23.02" height="22.95" fill="rgb(255,97,97)"/>
<rect x="503.40" y="521.10" width="23.02" height="22.95" fill="rgb(255,250,250)"/>
<rect x="526.42" y="521.10" width="23.02" height="22.95" fill="rgb(255,0,0)"/>
<rect x="549.44" y="521.10" width="23.02" height="22.95" fill="rgb(255,71,71)"/>
<rect x="572.46" y="521.10" width="23.02" height="22.95" fill="rgb(196,222,228)"/>
<rect x="595.48" y="521.10" width="23.02" height="22.95" fill="rgb(233,243,245)"/>
<rect x="388.30" y="544.05" width="23.02" height="22.95" fill="rgb(132,186,199)"/>
<rect x="411.32" y="544.05" width="23.02" height="22.95" fill="rgb(211,230,235)"/>
<rect x="434.34" y="544.05" width="23.02" height="22.95" fill="rgb(255,135,135)"/>
<rect x="457.36" y="544.05" width="23.02" height="22.95" fill="rgb(255,145,145)"/>
<rect x="480.38" y="544.05" width="23.02" height="22.95" fill="rgb(255,110,110)"/>
<rect x="503.40" y="544.05" width="23.02" height="22.95" fill="rgb(255,196,196)"/>
<rect x="526.42" y="544.05" width="23.02" height="22.95" fill="rgb(255,71,71)"/>
<rect x="549.44" y="544.05" width="23.02" height="22.95" fill="rgb(255,0,0)"/>
<rect x="572.46" y="544.05" width="23.02" height="22.95" fill="rgb(179,213,220)"/>
<rect x="595.48" y="544.05" width="23.02" height="22.95" fill="rgb(179,213,220)"/>
<rect x="388.30" y="567.00" width="23.02" height="22.95" fill="rgb(240,247,248)"/>
<rect x="411.32" y="567.00" width="23.02" height="22.95" fill="rgb(255,250,250)"/>
<rect x="434.34" y="567.00" width="23.02" height="22.95" fill="rgb(240,247,248)"/>
<rect x="457.36" y="567.00" width="23.02" height="22.95" fill="rgb(199,223,229)"/>
<rect x="480.38" y="567.00" width="23.02" height="22.95" fill="rgb(255,120,120)"/>
<rect x="503.40" y="567.00" width="23.02" height="22.95" fill="rgb(255,196,196)"/>
<rect x="526.42" y="567.00" width="23.02" height="22.95" fill="rgb(196,222,228)"/>
<rect x="549.44" y="567.00" width="23.02" height="22.95" fill="rgb(179,213,220)"/>
<rect x="572.46" y="567.00" width="23.02" height="22.95" fill="rgb(255,0,0)"/>
<rect x="595.48" y="567.00" width="23.02" height="22.95" fill="rgb(255,43,43)"/>
<rect x="388.30" y="589.95" width="23.02" height="22.95" fill="rgb(147,195,206)"/>
<rect x="411.32" y="589.95" width="23.02" height="22.95" fill="rgb(172,208,217)"/>
<rect x="434.34" y="589.95" width="23.02" height="22.95" fill="rgb(201,225,230)"/>
<rect x="457.36" y="589.95" width="23.02" height="22.95" fill="rgb(255,235,235)"/>
<rect x="480.38" y="589.95" width="23.02" height="22.95" fill="rgb(255,112,112)"/>
<rect x="503.40" y="589.95" width="23.02" height="22.95" fill="rgb(255,140,140)"/>
<rect x="526.42" y="589.95" width="23.02" height="22.95" fill="rgb(233,243,245)"/>
<rect x="549.44" y="589.95" width="23.02" height="22.95" fill="rgb(179,213,220)"/>
<rect x="572.46" y="589.95" width="23.02" height="22.95" fill="rgb(255,43,43)"/>
<rect x="595.48" y="589.95" width="23.02" height="22.95" fill="rgb(255,0,0)"/>
<text x="399.81" y="398.07" font-size="8.7" font-weight="normal" text-anchor="middle" fill="#151515" >1.00</text>
<text x="422.83" y="398.07" font-size="8.7" font-weight="normal" text-anchor="middle" fill="#151515" >0.86</text>
<path d="M426.94 387.30L426.94 391.30M425.21 388.30L428.67 390.30M425.21 390.30L428.67 388.30" stroke="#111" stroke-width="1.1" fill="none"/>
<path d="M431.64 387.30L431.64 391.30M429.91 388.30L433.37 390.30M429.91 390.30L433.37 388.30" stroke="#111" stroke-width="1.1" fill="none"/>
<text x="445.85" y="398.07" font-size="8.7" font-weight="normal" text-anchor="middle" fill="#151515" >0.15</text>
<text x="468.87" y="398.07" font-size="8.7" font-weight="normal" text-anchor="middle" fill="#151515" >-0.65</text>
<text x="480.78" y="390.80" font-size="6.8" font-weight="normal" text-anchor="end" fill="#151515" >(*)</text>
<text x="491.89" y="398.07" font-size="8.7" font-weight="normal" text-anchor="middle" fill="#151515" >-0.69</text>
<text x="503.80" y="390.80" font-size="6.8" font-weight="normal" text-anchor="end" fill="#151515" >(*)</text>
<text x="514.91" y="398.07" font-size="8.7" font-weight="normal" text-anchor="middle" fill="#151515" >-0.44</text>
<text x="537.93" y="398.07" font-size="8.7" font-weight="normal" text-anchor="middle" fill="#151515" >-0.60</text>
<text x="560.95" y="398.07" font-size="8.7" font-weight="normal" text-anchor="middle" fill="#151515" >-0.50</text>
<text x="583.97" y="398.07" font-size="8.7" font-weight="normal" text-anchor="middle" fill="#151515" >-0.06</text>
<text x="606.99" y="398.07" font-size="8.7" font-weight="normal" text-anchor="middle" fill="#151515" >-0.44</text>
<text x="399.81" y="421.02" font-size="8.7" font-weight="normal" text-anchor="middle" fill="#151515" >0.86</text>
<path d="M403.92 410.25L403.92 414.25M402.19 411.25L405.65 413.25M402.19 413.25L405.65 411.25" stroke="#111" stroke-width="1.1" fill="none"/>
<path d="M408.62 410.25L408.62 414.25M406.89 411.25L410.35 413.25M406.89 413.25L410.35 411.25" stroke="#111" stroke-width="1.1" fill="none"/>
<text x="422.83" y="421.02" font-size="8.7" font-weight="normal" text-anchor="middle" fill="#151515" >1.00</text>
<text x="445.85" y="421.02" font-size="8.7" font-weight="normal" text-anchor="middle" fill="#151515" >0.37</text>
<text x="468.87" y="421.02" font-size="8.7" font-weight="normal" text-anchor="middle" fill="#151515" >-0.66</text>
<text x="480.78" y="413.75" font-size="6.8" font-weight="normal" text-anchor="end" fill="#151515" >(*)</text>
<text x="491.89" y="421.02" font-size="8.7" font-weight="normal" text-anchor="middle" fill="#151515" >-0.34</text>
<text x="514.91" y="421.02" font-size="8.7" font-weight="normal" text-anchor="middle" fill="#151515" >-0.11</text>
<text x="537.93" y="421.02" font-size="8.7" font-weight="normal" text-anchor="middle" fill="#151515" >-0.39</text>
<text x="560.95" y="421.02" font-size="8.7" font-weight="normal" text-anchor="middle" fill="#151515" >-0.18</text>
<text x="583.97" y="421.02" font-size="8.7" font-weight="normal" text-anchor="middle" fill="#151515" >0.02</text>
<text x="606.99" y="421.02" font-size="8.7" font-weight="normal" text-anchor="middle" fill="#151515" >-0.34</text>
<text x="399.81" y="443.97" font-size="8.7" font-weight="normal" text-anchor="middle" fill="#151515" >0.15</text>
<text x="422.83" y="443.97" font-size="8.7" font-weight="normal" text-anchor="middle" fill="#151515" >0.37</text>
<text x="445.85" y="443.97" font-size="8.7" font-weight="normal" text-anchor="middle" fill="#151515" >1.00</text>
<text x="468.87" y="443.97" font-size="8.7" font-weight="normal" text-anchor="middle" fill="#151515" >0.40</text>
<text x="491.89" y="443.97" font-size="8.7" font-weight="normal" text-anchor="middle" fill="#151515" >0.12</text>
<text x="514.91" y="443.97" font-size="8.7" font-weight="normal" text-anchor="middle" fill="#151515" >0.40</text>
<text x="537.93" y="443.97" font-size="8.7" font-weight="normal" text-anchor="middle" fill="#151515" >-0.15</text>
<text x="560.95" y="443.97" font-size="8.7" font-weight="normal" text-anchor="middle" fill="#151515" >0.47</text>
<text x="583.97" y="443.97" font-size="8.7" font-weight="normal" text-anchor="middle" fill="#151515" >-0.06</text>
<text x="606.99" y="443.97" font-size="8.7" font-weight="normal" text-anchor="middle" fill="#151515" >-0.22</text>
<text x="399.81" y="466.93" font-size="8.7" font-weight="normal" text-anchor="middle" fill="#151515" >-0.65</text>
<text x="411.72" y="459.65" font-size="6.8" font-weight="normal" text-anchor="end" fill="#151515" >(*)</text>
<text x="422.83" y="466.93" font-size="8.7" font-weight="normal" text-anchor="middle" fill="#151515" >-0.66</text>
<text x="434.74" y="459.65" font-size="6.8" font-weight="normal" text-anchor="end" fill="#151515" >(*)</text>
<text x="445.85" y="466.93" font-size="8.7" font-weight="normal" text-anchor="middle" fill="#151515" >0.40</text>
<text x="468.87" y="466.93" font-size="8.7" font-weight="normal" text-anchor="middle" fill="#151515" >1.00</text>
<text x="491.89" y="466.93" font-size="8.7" font-weight="normal" text-anchor="middle" fill="#151515" >0.23</text>
<text x="514.91" y="466.93" font-size="8.7" font-weight="normal" text-anchor="middle" fill="#151515" >0.44</text>
<text x="537.93" y="466.93" font-size="8.7" font-weight="normal" text-anchor="middle" fill="#151515" >0.16</text>
<text x="560.95" y="466.93" font-size="8.7" font-weight="normal" text-anchor="middle" fill="#151515" >0.43</text>
<text x="583.97" y="466.93" font-size="8.7" font-weight="normal" text-anchor="middle" fill="#151515" >-0.23</text>
<text x="606.99" y="466.93" font-size="8.7" font-weight="normal" text-anchor="middle" fill="#151515" >0.08</text>
<text x="399.81" y="489.88" font-size="8.7" font-weight="normal" text-anchor="middle" fill="#151515" >-0.69</text>
<text x="411.72" y="482.60" font-size="6.8" font-weight="normal" text-anchor="end" fill="#151515" >(*)</text>
<text x="422.83" y="489.88" font-size="8.7" font-weight="normal" text-anchor="middle" fill="#151515" >-0.34</text>
<text x="445.85" y="489.88" font-size="8.7" font-weight="normal" text-anchor="middle" fill="#151515" >0.12</text>
<text x="468.87" y="489.88" font-size="8.7" font-weight="normal" text-anchor="middle" fill="#151515" >0.23</text>
<text x="491.89" y="489.88" font-size="8.7" font-weight="normal" text-anchor="middle" fill="#151515" >1.00</text>
<text x="514.91" y="489.88" font-size="8.7" font-weight="normal" text-anchor="middle" fill="#151515" >0.42</text>
<text x="537.93" y="489.88" font-size="8.7" font-weight="normal" text-anchor="middle" fill="#151515" >0.62</text>
<text x="560.95" y="489.88" font-size="8.7" font-weight="normal" text-anchor="middle" fill="#151515" >0.57</text>
<text x="583.97" y="489.88" font-size="8.7" font-weight="normal" text-anchor="middle" fill="#151515" >0.53</text>
<text x="606.99" y="489.88" font-size="8.7" font-weight="normal" text-anchor="middle" fill="#151515" >0.56</text>
<text x="399.81" y="512.83" font-size="8.7" font-weight="normal" text-anchor="middle" fill="#151515" >-0.44</text>
<text x="422.83" y="512.83" font-size="8.7" font-weight="normal" text-anchor="middle" fill="#151515" >-0.11</text>
<text x="445.85" y="512.83" font-size="8.7" font-weight="normal" text-anchor="middle" fill="#151515" >0.40</text>
<text x="468.87" y="512.83" font-size="8.7" font-weight="normal" text-anchor="middle" fill="#151515" >0.44</text>
<text x="491.89" y="512.83" font-size="8.7" font-weight="normal" text-anchor="middle" fill="#151515" >0.42</text>
<text x="514.91" y="512.83" font-size="8.7" font-weight="normal" text-anchor="middle" fill="#151515" >1.00</text>
<text x="537.93" y="512.83" font-size="8.7" font-weight="normal" text-anchor="middle" fill="#151515" >0.02</text>
<text x="560.95" y="512.83" font-size="8.7" font-weight="normal" text-anchor="middle" fill="#151515" >0.23</text>
<text x="583.97" y="512.83" font-size="8.7" font-weight="normal" text-anchor="middle" fill="#151515" >0.23</text>
<text x="606.99" y="512.83" font-size="8.7" font-weight="normal" text-anchor="middle" fill="#151515" >0.45</text>
<text x="399.81" y="535.77" font-size="8.7" font-weight="normal" text-anchor="middle" fill="#151515" >-0.60</text>
<text x="422.83" y="535.77" font-size="8.7" font-weight="normal" text-anchor="middle" fill="#151515" >-0.39</text>
<text x="445.85" y="535.77" font-size="8.7" font-weight="normal" text-anchor="middle" fill="#151515" >-0.15</text>
<text x="468.87" y="535.77" font-size="8.7" font-weight="normal" text-anchor="middle" fill="#151515" >0.16</text>
<text x="491.89" y="535.77" font-size="8.7" font-weight="normal" text-anchor="middle" fill="#151515" >0.62</text>
<text x="514.91" y="535.77" font-size="8.7" font-weight="normal" text-anchor="middle" fill="#151515" >0.02</text>
<text x="537.93" y="535.77" font-size="8.7" font-weight="normal" text-anchor="middle" fill="#151515" >1.00</text>
<text x="560.95" y="535.77" font-size="8.7" font-weight="normal" text-anchor="middle" fill="#151515" >0.72</text>
<path d="M568.86 524.50L568.86 528.30M567.21 525.45L570.51 527.35M567.21 527.35L570.51 525.45" stroke="#111" stroke-width="1.1" fill="none"/>
<text x="583.97" y="535.77" font-size="8.7" font-weight="normal" text-anchor="middle" fill="#151515" >-0.24</text>
<text x="606.99" y="535.77" font-size="8.7" font-weight="normal" text-anchor="middle" fill="#151515" >-0.09</text>
<text x="399.81" y="558.73" font-size="8.7" font-weight="normal" text-anchor="middle" fill="#151515" >-0.50</text>
<text x="422.83" y="558.73" font-size="8.7" font-weight="normal" text-anchor="middle" fill="#151515" >-0.18</text>
<text x="445.85" y="558.73" font-size="8.7" font-weight="normal" text-anchor="middle" fill="#151515" >0.47</text>
<text x="468.87" y="558.73" font-size="8.7" font-weight="normal" text-anchor="middle" fill="#151515" >0.43</text>
<text x="491.89" y="558.73" font-size="8.7" font-weight="normal" text-anchor="middle" fill="#151515" >0.57</text>
<text x="514.91" y="558.73" font-size="8.7" font-weight="normal" text-anchor="middle" fill="#151515" >0.23</text>
<text x="537.93" y="558.73" font-size="8.7" font-weight="normal" text-anchor="middle" fill="#151515" >0.72</text>
<path d="M545.84 547.45L545.84 551.25M544.19 548.40L547.49 550.30M544.19 550.30L547.49 548.40" stroke="#111" stroke-width="1.1" fill="none"/>
<text x="560.95" y="558.73" font-size="8.7" font-weight="normal" text-anchor="middle" fill="#151515" >1.00</text>
<text x="583.97" y="558.73" font-size="8.7" font-weight="normal" text-anchor="middle" fill="#151515" >-0.31</text>
<text x="606.99" y="558.73" font-size="8.7" font-weight="normal" text-anchor="middle" fill="#151515" >-0.31</text>
<text x="399.81" y="581.68" font-size="8.7" font-weight="normal" text-anchor="middle" fill="#151515" >-0.06</text>
<text x="422.83" y="581.68" font-size="8.7" font-weight="normal" text-anchor="middle" fill="#151515" >0.02</text>
<text x="445.85" y="581.68" font-size="8.7" font-weight="normal" text-anchor="middle" fill="#151515" >-0.06</text>
<text x="468.87" y="581.68" font-size="8.7" font-weight="normal" text-anchor="middle" fill="#151515" >-0.23</text>
<text x="491.89" y="581.68" font-size="8.7" font-weight="normal" text-anchor="middle" fill="#151515" >0.53</text>
<text x="514.91" y="581.68" font-size="8.7" font-weight="normal" text-anchor="middle" fill="#151515" >0.23</text>
<text x="537.93" y="581.68" font-size="8.7" font-weight="normal" text-anchor="middle" fill="#151515" >-0.24</text>
<text x="560.95" y="581.68" font-size="8.7" font-weight="normal" text-anchor="middle" fill="#151515" >-0.31</text>
<text x="583.97" y="581.68" font-size="8.7" font-weight="normal" text-anchor="middle" fill="#151515" >1.00</text>
<text x="606.99" y="581.68" font-size="8.7" font-weight="normal" text-anchor="middle" fill="#151515" >0.83</text>
<path d="M614.90 570.40L614.90 574.20M613.25 571.35L616.55 573.25M613.25 573.25L616.55 571.35" stroke="#111" stroke-width="1.1" fill="none"/>
<text x="399.81" y="604.62" font-size="8.7" font-weight="normal" text-anchor="middle" fill="#151515" >-0.44</text>
<text x="422.83" y="604.62" font-size="8.7" font-weight="normal" text-anchor="middle" fill="#151515" >-0.34</text>
<text x="445.85" y="604.62" font-size="8.7" font-weight="normal" text-anchor="middle" fill="#151515" >-0.22</text>
<text x="468.87" y="604.62" font-size="8.7" font-weight="normal" text-anchor="middle" fill="#151515" >0.08</text>
<text x="491.89" y="604.62" font-size="8.7" font-weight="normal" text-anchor="middle" fill="#151515" >0.56</text>
<text x="514.91" y="604.62" font-size="8.7" font-weight="normal" text-anchor="middle" fill="#151515" >0.45</text>
<text x="537.93" y="604.62" font-size="8.7" font-weight="normal" text-anchor="middle" fill="#151515" >-0.09</text>
<text x="560.95" y="604.62" font-size="8.7" font-weight="normal" text-anchor="middle" fill="#151515" >-0.31</text>
<text x="583.97" y="604.62" font-size="8.7" font-weight="normal" text-anchor="middle" fill="#151515" >0.83</text>
<path d="M591.88 593.35L591.88 597.15M590.23 594.30L593.53 596.20M590.23 596.20L593.53 594.30" stroke="#111" stroke-width="1.1" fill="none"/>
<text x="606.99" y="604.62" font-size="8.7" font-weight="normal" text-anchor="middle" fill="#151515" >1.00</text>
<line x1="388.30" y1="383.4" x2="388.30" y2="612.90" stroke="#111" stroke-width="1.0" stroke-linecap="butt"/>
<line x1="388.3" y1="383.40" x2="618.50" y2="383.40" stroke="#111" stroke-width="1.0" stroke-linecap="butt"/>
<line x1="411.32" y1="383.4" x2="411.32" y2="612.90" stroke="#111" stroke-width="1.0" stroke-linecap="butt"/>
<line x1="388.3" y1="406.35" x2="618.50" y2="406.35" stroke="#111" stroke-width="1.0" stroke-linecap="butt"/>
<line x1="434.34" y1="383.4" x2="434.34" y2="612.90" stroke="#111" stroke-width="1.0" stroke-linecap="butt"/>
<line x1="388.3" y1="429.30" x2="618.50" y2="429.30" stroke="#111" stroke-width="1.0" stroke-linecap="butt"/>
<line x1="457.36" y1="383.4" x2="457.36" y2="612.90" stroke="#111" stroke-width="1.0" stroke-linecap="butt"/>
<line x1="388.3" y1="452.25" x2="618.50" y2="452.25" stroke="#111" stroke-width="1.0" stroke-linecap="butt"/>
<line x1="480.38" y1="383.4" x2="480.38" y2="612.90" stroke="#111" stroke-width="1.0" stroke-linecap="butt"/>
<line x1="388.3" y1="475.20" x2="618.50" y2="475.20" stroke="#111" stroke-width="1.0" stroke-linecap="butt"/>
<line x1="503.40" y1="383.4" x2="503.40" y2="612.90" stroke="#111" stroke-width="1.0" stroke-linecap="butt"/>
<line x1="388.3" y1="498.15" x2="618.50" y2="498.15" stroke="#111" stroke-width="1.0" stroke-linecap="butt"/>
<line x1="526.42" y1="383.4" x2="526.42" y2="612.90" stroke="#111" stroke-width="1.0" stroke-linecap="butt"/>
<line x1="388.3" y1="521.10" x2="618.50" y2="521.10" stroke="#111" stroke-width="1.0" stroke-linecap="butt"/>
<line x1="549.44" y1="383.4" x2="549.44" y2="612.90" stroke="#111" stroke-width="1.0" stroke-linecap="butt"/>
<line x1="388.3" y1="544.05" x2="618.50" y2="544.05" stroke="#111" stroke-width="1.0" stroke-linecap="butt"/>
<line x1="572.46" y1="383.4" x2="572.46" y2="612.90" stroke="#111" stroke-width="1.0" stroke-linecap="butt"/>
<line x1="388.3" y1="567.00" x2="618.50" y2="567.00" stroke="#111" stroke-width="1.0" stroke-linecap="butt"/>
<line x1="595.48" y1="383.4" x2="595.48" y2="612.90" stroke="#111" stroke-width="1.0" stroke-linecap="butt"/>
<line x1="388.3" y1="589.95" x2="618.50" y2="589.95" stroke="#111" stroke-width="1.0" stroke-linecap="butt"/>
<line x1="618.50" y1="383.4" x2="618.50" y2="612.90" stroke="#111" stroke-width="1.0" stroke-linecap="butt"/>
<line x1="388.3" y1="612.90" x2="618.50" y2="612.90" stroke="#111" stroke-width="1.0" stroke-linecap="butt"/>
<rect x="388.30" y="383.40" width="230.20" height="229.50" fill="none" stroke="#111" stroke-width="1.8"/>
<text x="386.6" y="399.48" font-size="11.8" font-weight="bold" text-anchor="end" fill="#111" >kDD</text>
<text x="0" y="0" font-size="11.7" font-weight="bold" fill="#111" transform="translate(405.41 381.5) rotate(-90)">kDD</text>
<text x="383.3" y="422.43" font-size="11.8" font-weight="bold" text-anchor="end" fill="#111" >LEAP2</text>
<text x="0" y="0" font-size="11.7" font-weight="bold" fill="#111" transform="translate(428.43 381.5) rotate(-90)">LEAP2</text>
<text x="386.6" y="445.38" font-size="11.8" font-weight="bold" text-anchor="end" fill="#111" >Ghrelin</text>
<text x="0" y="0" font-size="11.7" font-weight="bold" fill="#111" transform="translate(451.45 381.5) rotate(-90)">Ghrelin</text>
<text x="386.6" y="468.33" font-size="11.8" font-weight="bold" text-anchor="end" fill="#111" >Ghelin/LEAP2</text>
<text x="0" y="0" font-size="11.7" font-weight="bold" fill="#111" transform="translate(474.47 381.5) rotate(-90)">Ghelin/LEAP2</text>
<text x="386.6" y="491.28" font-size="11.8" font-weight="bold" text-anchor="end" fill="#111" >PFC DRD1</text>
<text x="0" y="0" font-size="11.7" font-weight="bold" fill="#111" transform="translate(497.49 381.5) rotate(-90)">PFC DRD1</text>
<text x="386.6" y="514.23" font-size="11.8" font-weight="bold" text-anchor="end" fill="#111" >PFC DRD2</text>
<text x="0" y="0" font-size="11.7" font-weight="bold" fill="#111" transform="translate(520.51 381.5) rotate(-90)">PFC DRD2</text>
<text x="386.6" y="537.17" font-size="11.8" font-weight="bold" text-anchor="end" fill="#111" >DS DRD1</text>
<text x="0" y="0" font-size="11.7" font-weight="bold" fill="#111" transform="translate(543.53 381.5) rotate(-90)">DS DRD1</text>
<text x="386.6" y="560.12" font-size="11.8" font-weight="bold" text-anchor="end" fill="#111" >DS DRD2</text>
<text x="0" y="0" font-size="11.7" font-weight="bold" fill="#111" transform="translate(566.55 381.5) rotate(-90)">DS DRD2</text>
<text x="386.6" y="583.08" font-size="11.8" font-weight="bold" text-anchor="end" fill="#111" >NAc DRD1</text>
<text x="0" y="0" font-size="11.7" font-weight="bold" fill="#111" transform="translate(589.57 381.5) rotate(-90)">NAc DRD1</text>
<text x="386.6" y="606.02" font-size="11.8" font-weight="bold" text-anchor="end" fill="#111" >NAc DRD2</text>
<text x="0" y="0" font-size="11.7" font-weight="bold" fill="#111" transform="translate(612.59 381.5) rotate(-90)">NAc DRD2</text>
<defs><linearGradient id="cb" x1="0" y1="0" x2="0" y2="1"><stop offset="0" stop-color="rgb(255,0,0)"/><stop offset="0.5" stop-color="#fff"/><stop offset="1" stop-color="rgb(10,118,143)"/></linearGradient></defs>
<rect x="637.6" y="383.9" width="18.6" height="228.6" fill="url(#cb)" stroke="#111" stroke-width="1.5"/>
<text x="663.5" y="389.40" font-size="12.5" font-weight="normal" text-anchor="start" fill="#222" >1.0</text>
<line x1="637.6" y1="441.2" x2="641" y2="441.2" stroke="#111" stroke-width="1.3" stroke-linecap="butt"/>
<line x1="652.8" y1="441.2" x2="656.2" y2="441.2" stroke="#111" stroke-width="1.3" stroke-linecap="butt"/>
<text x="663.5" y="446.40" font-size="12.5" font-weight="normal" text-anchor="start" fill="#222" >0.5</text>
<line x1="637.6" y1="498.2" x2="641" y2="498.2" stroke="#111" stroke-width="1.3" stroke-linecap="butt"/>
<line x1="652.8" y1="498.2" x2="656.2" y2="498.2" stroke="#111" stroke-width="1.3" stroke-linecap="butt"/>
<text x="663.5" y="503.40" font-size="12.5" font-weight="normal" text-anchor="start" fill="#222" >0</text>
<line x1="637.6" y1="555.2" x2="641" y2="555.2" stroke="#111" stroke-width="1.3" stroke-linecap="butt"/>
<line x1="652.8" y1="555.2" x2="656.2" y2="555.2" stroke="#111" stroke-width="1.3" stroke-linecap="butt"/>
<text x="663.5" y="560.40" font-size="12.5" font-weight="normal" text-anchor="start" fill="#222" >-0.5</text>
<text x="663.5" y="617.40" font-size="12.5" font-weight="normal" text-anchor="start" fill="#222" >-1.0</text>
</svg></body></html>
